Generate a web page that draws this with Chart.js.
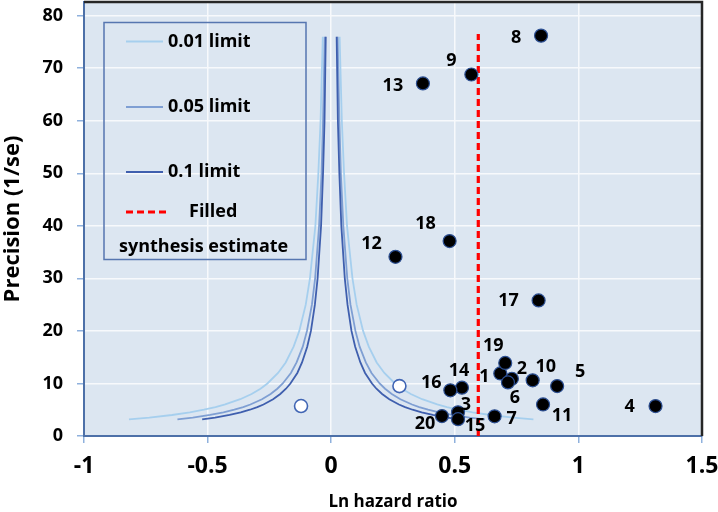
<!DOCTYPE html>
<html>
<head>
<meta charset="utf-8">
<title>Contour-enhanced funnel plot</title>
<script src="https://cdn.jsdelivr.net/npm/chart.js@4.4.1/dist/chart.umd.min.js"></script>
<style>
  html, body { margin: 0; padding: 0; background: #fff; }
  #funnel { display: block; }
</style>
</head>
<body>
<canvas id="funnel" width="718" height="512"></canvas>
<script>
// studies (id, ln hazard ratio, precision 1/se)
var studyIds  = [1, 2, 3, 4, 5, 6, 7, 8, 9, 10, 11, 12, 13, 14, 15, 16, 17, 18, 19, 20];
var lnHR      = [0.684, 0.731, 0.513, 1.312, 0.914, 0.715, 0.661, 0.849, 0.567, 0.815,
                 0.857, 0.260, 0.371, 0.529, 0.513, 0.482, 0.839, 0.479, 0.704, 0.448];
var precision = [11.9, 10.9, 4.5, 5.7, 9.5, 10.2, 3.75, 76.2, 68.8, 10.6,
                 6.0, 34.1, 67.1, 9.2, 3.2, 8.7, 25.8, 37.1, 13.9, 3.8];

// trim and fill: imputed studies
var filledLnHR      = [0.276, -0.122];
var filledPrecision = [9.5, 5.7];

// filled synthesis estimate
var synthesisEstimate = 0.595;
var synthesisTop      = 76.5;

// contour half widths (funnel is centred on 0)
var contourPrecision = [3.15, 3.5, 4, 4.5, 5, 5.5, 6, 7, 8, 9, 10, 12, 14, 17, 20, 25, 30, 40, 50, 60, 76];
var limit001 = [0.818, 0.736, 0.644, 0.572, 0.515, 0.468, 0.429, 0.368, 0.322, 0.286, 0.258,
                0.215, 0.184, 0.152, 0.129, 0.103, 0.086, 0.064, 0.052, 0.043, 0.034];
var limit005 = [0.622, 0.560, 0.490, 0.436, 0.392, 0.356, 0.327, 0.280, 0.245, 0.218, 0.196,
                0.163, 0.140, 0.115, 0.098, 0.078, 0.065, 0.049, 0.039, 0.033, 0.026];
var limit01  = [0.522, 0.470, 0.411, 0.366, 0.329, 0.299, 0.274, 0.235, 0.206, 0.183, 0.165,
                0.137, 0.118, 0.097, 0.082, 0.066, 0.055, 0.041, 0.033, 0.027, 0.022];

var xTicks = [-1, -0.5, 0, 0.5, 1, 1.5];
var yTicks = [0, 10, 20, 30, 40, 50, 60, 70, 80];

// where each study number sits relative to its dot (px)
var labelShift = {
    1: [-16, 3], 2: [10, -10], 3: [8, -7], 4: [-26, 1], 5: [23, -14],
    6: [7, 15], 7: [17, 3], 8: [-25, 2], 9: [-20, -14], 10: [13, -13],
    11: [19, 11], 12: [-24, -13], 13: [-30, 2], 14: [-3, -17], 15: [17, 7],
    16: [-19, -7], 17: [-30, 0], 18: [-24, -17], 19: [-12, -17], 20: [-17, 8]
};

var FONT = 'Open Sans';

function branch(half, sign) {
    return contourPrecision.map(function (p, i) { return { x: sign * half[i], y: p }; });
}

function curve(label, half, sign, color, order) {
    return {
        label: label,
        data: branch(half, sign),
        showLine: true,
        borderColor: color,
        borderWidth: 1.8,
        pointRadius: 0,
        fill: false,
        order: order
    };
}

var studyPoints = lnHR.map(function (x, i) { return { x: x, y: precision[i] }; });
var filledPoints = filledLnHR.map(function (x, i) { return { x: x, y: filledPrecision[i] }; });

// scales should not push the plot area in for their end labels
var noScalePadding = {
    id: 'noScalePadding',
    beforeLayout: function (chart) {
        Object.keys(chart.scales).forEach(function (k) {
            chart.scales[k].getPadding = function () { return { left: 0, top: 0, right: 0, bottom: 0 }; };
        });
    }
};

var plotBg = {
    id: 'plotBg',
    beforeDraw: function (chart) {
        var a = chart.chartArea, ctx = chart.ctx;
        ctx.save();
        ctx.fillStyle = '#dce6f1';
        ctx.fillRect(a.left, a.top, a.right - a.left, a.bottom - a.top);
        ctx.restore();
    }
};

var frame = {
    id: 'frame',
    afterDraw: function (chart) {
        var a = chart.chartArea, ctx = chart.ctx;
        ctx.save();
        ctx.strokeStyle = '#262626';
        ctx.lineWidth = 2.5;
        ctx.beginPath();
        ctx.moveTo(a.left, a.top);
        ctx.lineTo(a.right, a.top);
        ctx.lineTo(a.right, a.bottom);
        ctx.stroke();
        ctx.restore();
    }
};

var studyLabels = {
    id: 'studyLabels',
    afterDatasetsDraw: function (chart) {
        var meta = chart.getDatasetMeta(0), ctx = chart.ctx;
        ctx.save();
        ctx.fillStyle = '#000';
        ctx.font = 'bold 18px "' + FONT + '"';
        ctx.textAlign = 'center';
        ctx.textBaseline = 'middle';
        meta.data.forEach(function (pt, i) {
            var s = labelShift[studyIds[i]];
            ctx.fillText(String(studyIds[i]), pt.x + s[0], pt.y + s[1]);
        });
        ctx.restore();
    }
};

// legend box inside the plot, top left
var legendBox = {
    id: 'legendBox',
    afterDraw: function (chart) {
        var a = chart.chartArea, ctx = chart.ctx;
        var bx = a.left + 20, by = a.top + 20.5;
        ctx.save();
        ctx.strokeStyle = '#5676b0';
        ctx.lineWidth = 1.5;
        ctx.strokeRect(bx, by, 202, 237);

        ctx.font = 'bold 18px "' + FONT + '"';
        ctx.fillStyle = '#000';
        ctx.textBaseline = 'middle';
        ctx.textAlign = 'left';

        var rows = [
            { text: '0.01 limit', color: chart.data.datasets[3].borderColor, y: by + 19 },
            { text: '0.05 limit', color: chart.data.datasets[5].borderColor, y: by + 84.5 },
            { text: '0.1 limit', color: chart.data.datasets[7].borderColor, y: by + 149.5 }
        ];
        rows.forEach(function (r) {
            ctx.strokeStyle = r.color;
            ctx.lineWidth = 2;
            ctx.beginPath();
            ctx.moveTo(bx + 22, r.y);
            ctx.lineTo(bx + 59, r.y);
            ctx.stroke();
            ctx.fillText(r.text, bx + 64, r.y);
        });

        var ry = by + 189.5;
        ctx.strokeStyle = '#ff0000';
        ctx.lineWidth = 3;
        ctx.setLineDash([7, 4]);
        ctx.beginPath();
        ctx.moveTo(bx + 22, ry);
        ctx.lineTo(bx + 64, ry);
        ctx.stroke();
        ctx.setLineDash([]);
        ctx.fillText('Filled', bx + 85, ry);
        ctx.fillText('synthesis estimate', bx + 15, by + 224.5);
        ctx.restore();
    }
};

var tickFont = { family: FONT, weight: 'bold', size: 18 };

new Chart(document.getElementById('funnel'), {
    type: 'scatter',
    data: {
        datasets: [
            {
                label: 'Studies',
                data: studyPoints,
                pointRadius: 6.5,
                pointHoverRadius: 6.5,
                backgroundColor: '#000000',
                borderColor: '#2c4f92',
                borderWidth: 1.2,
                order: 0
            },
            {
                label: 'Filled studies',
                data: filledPoints,
                pointRadius: 6.5,
                pointHoverRadius: 6.5,
                backgroundColor: '#ffffff',
                borderColor: '#4065b4',
                borderWidth: 1.6,
                order: 1
            },
            {
                label: 'Filled synthesis estimate',
                data: [{ x: synthesisEstimate, y: 0 }, { x: synthesisEstimate, y: synthesisTop }],
                showLine: true,
                borderColor: '#ff0000',
                borderWidth: 3.2,
                borderDash: [7, 4],
                pointRadius: 0,
                order: 2
            },
            curve('0.01 limit', limit001, -1, '#a6cfee', 5),
            curve('0.01 limit', limit001, 1, '#a6cfee', 5),
            curve('0.05 limit', limit005, -1, '#7f9fd3', 4),
            curve('0.05 limit', limit005, 1, '#7f9fd3', 4),
            curve('0.1 limit', limit01, -1, '#3f5fae', 3),
            curve('0.1 limit', limit01, 1, '#3f5fae', 3)
        ]
    },
    options: {
        responsive: false,
        animation: false,
        layout: { autoPadding: false, padding: { top: 2, right: 16, left: 0, bottom: 0 } },
        plugins: {
            legend: { display: false },
            tooltip: { enabled: false }
        },
        scales: {
            x: {
                type: 'linear',
                min: -1,
                max: 1.5,
                afterBuildTicks: function (s) { s.ticks = xTicks.map(function (v) { return { value: v }; }); },
                afterFit: function (s) { s.height = 76; },
                grid: { color: '#f7f9fc', lineWidth: 1.5, tickLength: 7, tickColor: '#8fb1dd', tickWidth: 1.5 },
                border: { color: '#4d70a8', width: 2 },
                ticks: {
                    color: '#000',
                    font: { family: FONT, weight: 'bold', size: 23 },
                    padding: 10,
                    maxRotation: 0,
                    callback: function (v) { return String(v); }
                },
                title: {
                    display: true,
                    text: 'Ln hazard ratio',
                    color: '#000',
                    font: { family: FONT, weight: 'bold', size: 17 },
                    padding: { top: 0, bottom: 0 }
                }
            },
            y: {
                type: 'linear',
                min: 0,
                max: 82.6,
                afterBuildTicks: function (s) { s.ticks = yTicks.map(function (v) { return { value: v }; }); },
                afterFit: function (s) { s.width = 84; },
                grid: { color: '#f7f9fc', lineWidth: 1.5, tickLength: 7, tickColor: '#8fb1dd', tickWidth: 1.5 },
                border: { color: '#4d70a8', width: 2 },
                ticks: {
                    color: '#000',
                    font: tickFont,
                    padding: 14,
                    callback: function (v) { return String(v); }
                },
                title: {
                    display: true,
                    text: 'Precision (1/se)',
                    color: '#000',
                    font: { family: FONT, weight: 'bold', size: 22 },
                    padding: { top: 0, bottom: 0 }
                }
            }
        }
    },
    plugins: [noScalePadding, plotBg, frame, studyLabels, legendBox]
});
</script>
</body>
</html>
